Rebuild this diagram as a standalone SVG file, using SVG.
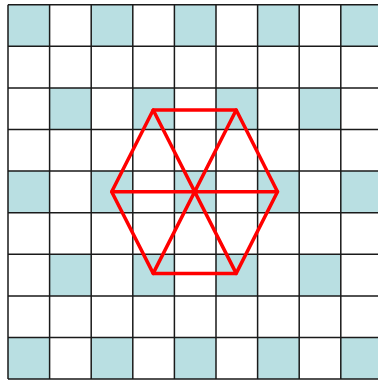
<svg xmlns="http://www.w3.org/2000/svg" width="378" height="383" viewBox="0 0 378 383">
<style>
.sh{fill:#b9dfe2}
.gl{stroke:#1a1a1a;stroke-width:1.5;fill:none}
.hx{stroke:#ff0000;stroke-width:3.5;fill:none;stroke-linejoin:round;stroke-linecap:round}
</style>
<rect width="378" height="383" fill="#ffffff"/>
<g id="shading">
<rect class="sh" x="8" y="4.7" width="41.6" height="41.6"/>
<rect class="sh" x="91.2" y="4.7" width="41.6" height="41.6"/>
<rect class="sh" x="174.4" y="4.7" width="41.6" height="41.6"/>
<rect class="sh" x="257.6" y="4.7" width="41.6" height="41.6"/>
<rect class="sh" x="340.8" y="4.7" width="41.6" height="41.6"/>
<rect class="sh" x="49.6" y="87.9" width="41.6" height="41.6"/>
<rect class="sh" x="132.8" y="87.9" width="41.6" height="41.6"/>
<rect class="sh" x="216" y="87.9" width="41.6" height="41.6"/>
<rect class="sh" x="299.2" y="87.9" width="41.6" height="41.6"/>
<rect class="sh" x="8" y="171.1" width="41.6" height="41.6"/>
<rect class="sh" x="91.2" y="171.1" width="41.6" height="41.6"/>
<rect class="sh" x="174.4" y="171.1" width="41.6" height="41.6"/>
<rect class="sh" x="257.6" y="171.1" width="41.6" height="41.6"/>
<rect class="sh" x="340.8" y="171.1" width="41.6" height="41.6"/>
<rect class="sh" x="49.6" y="254.3" width="41.6" height="41.6"/>
<rect class="sh" x="132.8" y="254.3" width="41.6" height="41.6"/>
<rect class="sh" x="216" y="254.3" width="41.6" height="41.6"/>
<rect class="sh" x="299.2" y="254.3" width="41.6" height="41.6"/>
<rect class="sh" x="8" y="337.5" width="41.6" height="41.6"/>
<rect class="sh" x="91.2" y="337.5" width="41.6" height="41.6"/>
<rect class="sh" x="174.4" y="337.5" width="41.6" height="41.6"/>
<rect class="sh" x="257.6" y="337.5" width="41.6" height="41.6"/>
<rect class="sh" x="340.8" y="337.5" width="41.6" height="41.6"/>
</g>
<g id="grid" class="gl">
<path d="M8 4.7V379.1M49.6 4.7V379.1M91.2 4.7V379.1M132.8 4.7V379.1M174.4 4.7V379.1M216 4.7V379.1M257.6 4.7V379.1M299.2 4.7V379.1M340.8 4.7V379.1"/>
<path d="M8 4.7H378M8 46.3H378M8 87.9H378M8 129.5H378M8 171.1H378M8 212.7H378M8 254.3H378M8 295.9H378M8 337.5H378M8 379.1H378"/>
</g>
<g id="hexagon" class="hx">
<polygon points="153.2,110 236.2,110 277.5,191.7 236.2,273.4 153.2,273.4 111.7,191.7"/>
<path d="M111.7 191.7H277.5M153.2 110L236.2 273.4M236.2 110L153.2 273.4"/>
</g>
</svg>
